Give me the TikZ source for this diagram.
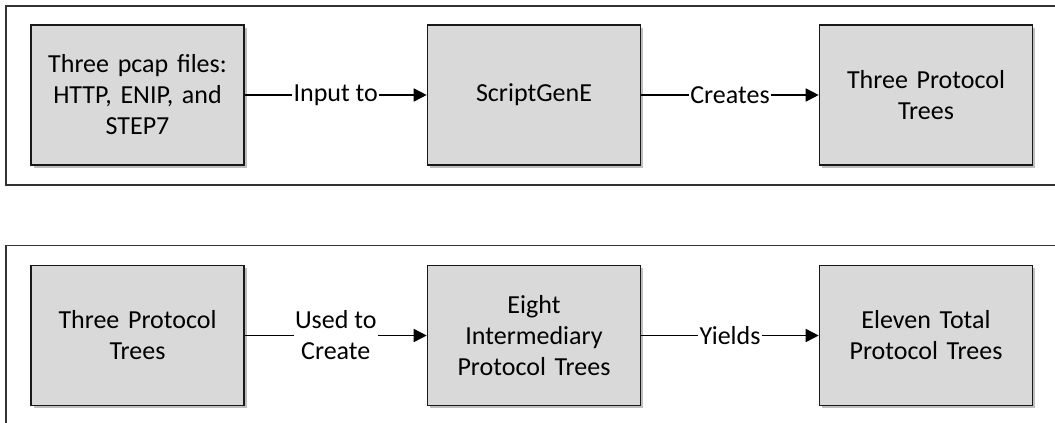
\documentclass[tikz,border=0pt]{standalone}
\usepackage{fontspec}
\setmainfont{Carlito}
\usetikzlibrary{arrows.meta,shadows}
\newcommand{\boxfont}{\fontsize{26}{31}\selectfont}
\tikzset{
  frame/.style={draw=black!80, line width=1.6pt},
  stage/.style={draw=black!90, line width=1.6pt, fill=black!15,
    minimum width=213pt, minimum height=140pt, inner sep=0pt,
    align=center, text width=205pt, font=\boxfont,
    execute at begin node={\setlength{\baselineskip}{31pt}},
    drop shadow={shadow xshift=2.5pt, shadow yshift=-2.5pt, opacity=0.25, fill=black}},
  flow/.style={line width=1.6pt, -{Triangle[length=13pt,width=13pt]}},
  tag/.style={fill=white, inner sep=1.5pt, align=center, font=\boxfont,
    execute at begin node={\setlength{\baselineskip}{31pt}}}
}
\begin{document}
\begin{tikzpicture}[x=1pt,y=-1pt]
  \useasboundingbox (0,0) rectangle (1055,423);
  \fill[white] (0,0) rectangle (1055,423);
  \clip (0,0) rectangle (1055,423);

  % enclosing frames, open to the right and below
  \draw[frame] (6,6) rectangle (1075,185);
  \draw[frame] (6,245.5) rectangle (1075,440);

  % first row
  \node[stage] (pcap)  at (137.5,95)  {Three pcap files:\\HTTP, ENIP, and\\STEP7};
  \node[stage] (sge)   at (534,95)    {ScriptGenE};
  \node[stage] (trees) at (926,95)    {Three Protocol\\Trees};

  \draw[flow] (pcap) -- node[tag] {Input to} (sge);
  \draw[flow] (sge) -- node[tag] {Creates} (trees);

  % second row
  \node[stage] (trees2) at (137.5,335.5) {Three Protocol\\Trees};
  \node[stage] (inter)  at (534,335.5)   {Eight\\Intermediary\\Protocol Trees};
  \node[stage] (total)  at (926,335.5)   {Eleven Total\\Protocol Trees};

  \draw[flow] (trees2) -- node[tag] {Used to\\Create} (inter);
  \draw[flow] (inter) -- node[tag] {Yields} (total);
\end{tikzpicture}
\end{document}
